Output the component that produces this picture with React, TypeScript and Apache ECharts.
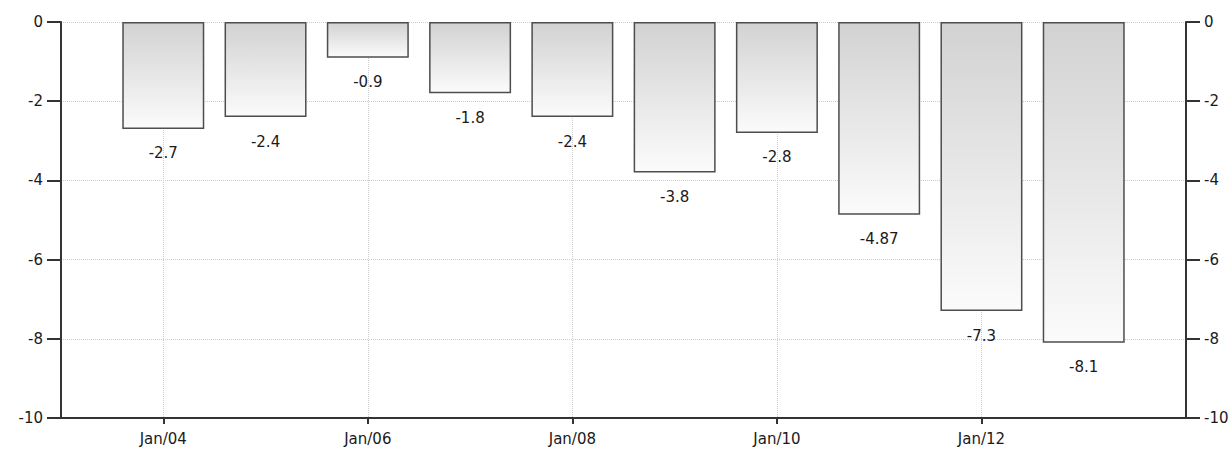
import React, { useEffect, useRef } from "react";
import * as echarts from "echarts";

const years: string[] = ["Jan/03", "Jan/04", "Jan/05", "Jan/06", "Jan/07", "Jan/08", "Jan/09", "Jan/10", "Jan/11", "Jan/12", "Jan/13", "Jan/14"];
const values: (number | string)[] = ["-", -2.7, -2.4, -0.9, -1.8, -2.4, -3.8, -2.8, -4.87, -7.3, -8.1, "-"];
const shownLabels: string[] = ["Jan/04", "Jan/06", "Jan/08", "Jan/10", "Jan/12"];

const FONT = "DejaVu Sans";

export default function App() {
  const ref = useRef<HTMLDivElement>(null);
  useEffect(() => {
    if (!ref.current) return;
    const chart = echarts.init(ref.current, null, { renderer: "svg" });
    const showIdx = (i: number) => shownLabels.includes(years[i]);
    const yCommon = {
      type: "value",
      min: -10,
      max: 0,
      interval: 2,
      axisLine: { show: true, lineStyle: { color: "#333", width: 2 } },
      axisTick: { show: true, length: 14, lineStyle: { color: "#333", width: 2 } },
      axisLabel: { color: "#1a1a1a", fontFamily: FONT, fontSize: 15, margin: 18 },
    };
    chart.setOption({
      animation: false,
      backgroundColor: "#fff",
      grid: { left: 61, right: 46, top: 22, bottom: 32, containLabel: false },
      xAxis: {
        type: "category",
        data: years,
        boundaryGap: false,
        axisLine: { show: true, onZero: false, lineStyle: { color: "#333", width: 2 } },
        axisTick: { show: true, length: 6, interval: (i: number) => showIdx(i), lineStyle: { color: "#333", width: 2 } },
        axisLabel: { interval: (i: number) => showIdx(i), color: "#1a1a1a", fontFamily: FONT, fontSize: 15, margin: 13 },
        splitLine: { show: true, interval: (i: number) => showIdx(i), lineStyle: { color: "#ccc", type: "dotted", width: 1 } },
      },
      yAxis: [
        {
          ...yCommon,
          position: "left",
          splitLine: { show: true, lineStyle: { color: "#ccc", type: "dotted", width: 1 } },
        },
        {
          ...yCommon,
          position: "right",
          splitLine: { show: false },
        },
      ],
      series: [
        {
          type: "bar",
          data: values,
          yAxisIndex: 0,
          barWidth: 82,
          itemStyle: {
            color: new echarts.graphic.LinearGradient(0, 0, 0, 1, [
              { offset: 0, color: "#d2d2d2" },
              { offset: 1, color: "#fbfbfb" },
            ]),
            borderColor: "#4d4d4d",
            borderWidth: 1.5,
          },
          label: {
            show: true,
            position: "bottom",
            distance: 17,
            color: "#1a1a1a",
            fontFamily: FONT,
            fontSize: 15,
            formatter: (p: any) => String(p.value),
          },
        },
      ],
    });
    return () => chart.dispose();
  }, []);
  return <div ref={ref} style={{ width: 1232, height: 450, position: "absolute", left: 0, top: 0 }} />;
}
